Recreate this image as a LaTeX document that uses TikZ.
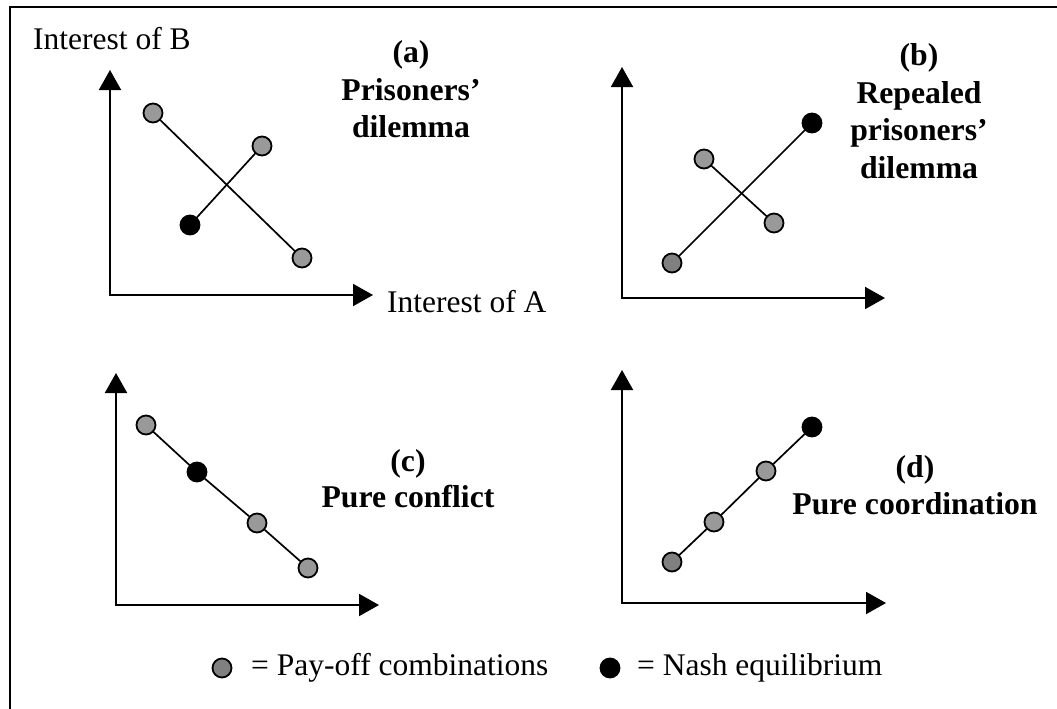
\documentclass[tikz,border=0pt]{standalone}
\usepackage{fontspec}
\setmainfont{Liberation Serif}
\usetikzlibrary{arrows.meta}
\definecolor{ptgray}{HTML}{999999}
\definecolor{ptdark}{HTML}{808080}
\begin{document}
\begin{tikzpicture}[x=1pt,y=-1pt,
  frame/.style={line width=2pt},
  axis/.style={line width=2pt,{Triangle[length=20pt,width=22pt]}-{Triangle[length=20pt,width=22pt]}},
  link/.style={line width=1.7pt},
  pt/.style={circle,draw,line width=1.8pt,minimum size=19pt,inner sep=0pt,fill=ptgray},
  ptd/.style={pt,fill=ptdark},
  nash/.style={pt,fill=black},
  title/.style={font=\bfseries\fontsize{31.7}{38}\selectfont,anchor=base,inner sep=0pt},
  lab/.style={font=\fontsize{31.5}{38}\selectfont,anchor=base west,inner sep=0pt}]
\useasboundingbox (0,0) rectangle (1057,709);
% frame
\coordinate (f1) at (10,709);
\coordinate (f2) at (10,7);
\coordinate (f3) at (1057,7);
\draw[frame] (f1) -- (f2) -- (f3);

% ---- panel (a)
\coordinate (ay) at (110,70);
\coordinate (ao) at (110,295);
\coordinate (ax) at (373,295);
\draw[axis] (ay) -- (ao) -- (ax);
\node[pt]   (a1) at (153,113) {};
\node[pt]   (a2) at (262,146) {};
\node[nash] (a3) at (190,225) {};
\node[pt]   (a4) at (302,258) {};
\draw[link] (a1) -- (a4);
\draw[link] (a3) -- (a2);
\node[lab] (iB) at (33,50) {Interest of B};
\node[lab] (iA) at (387,312) {Interest of A};
\node[title] (ta1) at (411,63) {(a)};
\node[title] (ta2) at (411,100) {Prisoners’};
\node[title] (ta3) at (411,137) {dilemma};

% ---- panel (b)
\coordinate (by) at (622,67);
\coordinate (bo) at (622,298);
\coordinate (bx) at (885,298);
\draw[axis] (by) -- (bo) -- (bx);
\node[nash] (b1) at (812,123) {};
\node[pt]   (b2) at (704,159) {};
\node[pt]   (b3) at (774,223) {};
\node[ptd]  (b4) at (672,263) {};
\draw[link] (b4) -- (b1);
\draw[link] (b2) -- (b3);
\node[title] (tb1) at (919,66) {(b)};
\node[title] (tb2) at (919,103) {Repealed};
\node[title] (tb3) at (919,140) {prisoners’};
\node[title] (tb4) at (919,178) {dilemma};

% ---- panel (c)
\coordinate (cy) at (116,373);
\coordinate (co) at (116,605);
\coordinate (cx) at (379,605);
\draw[axis] (cy) -- (co) -- (cx);
\node[pt]   (c1) at (146,425) {};
\node[nash] (c2) at (197,472) {};
\node[pt]   (c3) at (257,523) {};
\node[pt]   (c4) at (308,568) {};
\draw[link] (c1) -- (c2);
\draw[link] (c2) -- (c3);
\draw[link] (c3) -- (c4);
\node[title] (tc1) at (408,471) {(c)};
\node[title] (tc2) at (408,507) {Pure conflict};

% ---- panel (d)
\coordinate (dy) at (622,370);
\coordinate (do) at (622,603);
\coordinate (dx) at (886,603);
\draw[axis] (dy) -- (do) -- (dx);
\node[nash] (d1) at (812,427) {};
\node[pt]   (d2) at (766,471) {};
\node[pt]   (d3) at (714,522) {};
\node[ptd]  (d4) at (672,562) {};
\draw[link] (d4) -- (d3);
\draw[link] (d3) -- (d2);
\draw[link] (d2) -- (d1);
\node[title] (td1) at (915,477) {(d)};
\node[title] (td2) at (915,514) {Pure coordination};

% ---- legend
\node[ptd]  (l1) at (222,668) {};
\node[lab]  (l1t) at (251,675) {= Pay-off combinations};
\node[nash] (l2) at (610,668) {};
\node[lab]  (l2t) at (637,675) {= Nash equilibrium};
\end{tikzpicture}
\end{document}
